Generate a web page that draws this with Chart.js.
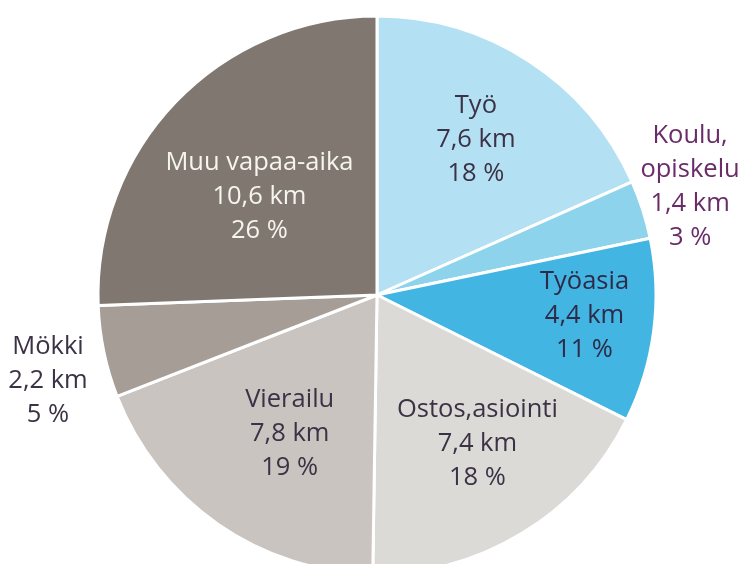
<!DOCTYPE html>
<html>
<head>
<meta charset="utf-8">
<script src="https://cdn.jsdelivr.net/npm/chart.js@4/dist/chart.umd.min.js"></script>
<style>
  html, body { margin: 0; padding: 0; background: #fff; overflow: hidden; }
  #wrap { position: relative; width: 745px; height: 564px; }
</style>
</head>
<body>
<div id="wrap"><canvas id="tripChart"></canvas></div>
<script>
// Matkat tarkoituksen mukaan (km / henkilö / vrk)
const categories = ['Työ', 'Koulu, opiskelu', 'Työasia', 'Ostos,asiointi', 'Vierailu', 'Mökki', 'Muu vapaa-aika'];
const kmValues = [7.6, 1.4, 4.4, 7.4, 7.8, 2.2, 10.6];
const percentLabels = ['18 %', '3 %', '11 %', '18 %', '19 %', '5 %', '26 %'];

// Label lines per slice (name may wrap)
const nameLines = [['Työ'], ['Koulu,', 'opiskelu'], ['Työasia'], ['Ostos,asiointi'], ['Vierailu'], ['Mökki'], ['Muu vapaa-aika']];

const sliceColors = ['#b3e1f3', '#8dd3ec', '#43b5e2', '#dcdad6', '#c9c4c0', '#a59d96', '#807870'];
const textColors = ['#3b3245', '#6a2c68', '#2e2a48', '#3b3245', '#3b3245', '#3b3245', '#f6f4ee'];
// distance of each label from the centre, as a share of the radius, plus a small pixel nudge
const labelRadius = [0.65, 1.19, 0.75, 0.61, 0.58, 1.23, 0.56];
const labelNudge = [[0, -3], [-3, -7], [0, -6], [12, 3], [5, 6], [7, 16], [-5, 10]];

const fmtKm = v => v.toString().replace('.', ',') + ' km';

const sliceLabels = {
    id: 'sliceLabels',
    afterDatasetsDraw(chart) {
        const ctx = chart.ctx;
        const meta = chart.getDatasetMeta(0);
        ctx.save();
        ctx.font = '25.5px "Open Sans", sans-serif';
        ctx.textAlign = 'center';
        ctx.textBaseline = 'middle';
        meta.data.forEach((arc, i) => {
            const p = arc.getProps(['x', 'y', 'startAngle', 'endAngle', 'outerRadius'], true);
            const mid = (p.startAngle + p.endAngle) / 2;
            const r = p.outerRadius * labelRadius[i];
            const cx = p.x + Math.cos(mid) * r + labelNudge[i][0];
            const cy = p.y + Math.sin(mid) * r + labelNudge[i][1];
            const lines = nameLines[i].concat([fmtKm(kmValues[i]), percentLabels[i]]);
            const lh = 34;
            const top = cy - (lines.length - 1) * lh / 2;
            ctx.fillStyle = textColors[i];
            lines.forEach((t, j) => ctx.fillText(t, cx, top + j * lh));
        });
        ctx.restore();
    }
};

new Chart(document.getElementById('tripChart'), {
    type: 'pie',
    data: {
        labels: categories,
        datasets: [{
            data: kmValues,
            backgroundColor: sliceColors,
            borderColor: '#ffffff',
            borderWidth: 3,
            radius: 279
        }]
    },
    options: {
        responsive: true,
        maintainAspectRatio: false,
        animation: false,
        layout: { padding: { top: 26, left: 9, right: 0, bottom: 0 } },
        plugins: {
            legend: { display: false },
            tooltip: { enabled: false }
        }
    },
    plugins: [sliceLabels]
});
</script>
</body>
</html>
